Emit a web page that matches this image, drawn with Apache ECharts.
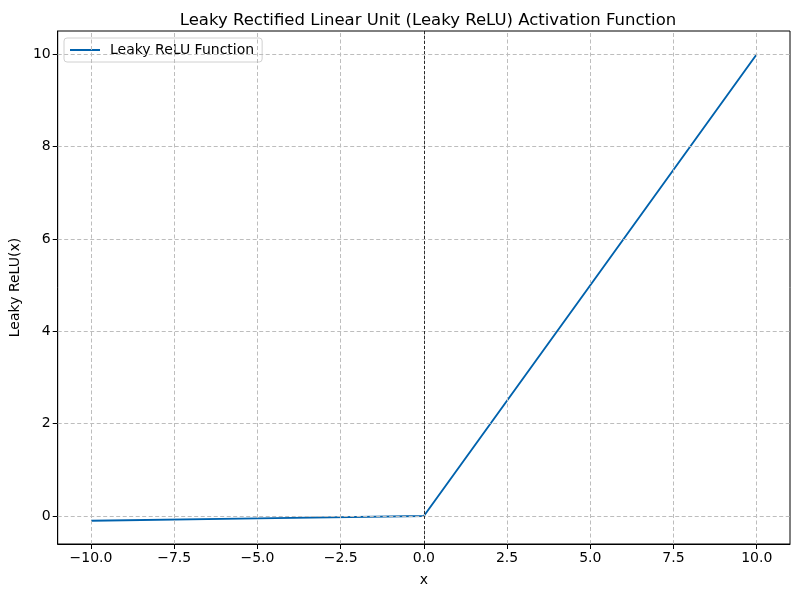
<!DOCTYPE html>
<html>
<head>
<meta charset="utf-8">
<script src="https://cdn.jsdelivr.net/npm/echarts@6/dist/echarts.min.js"></script>
<style>
  html, body { margin: 0; padding: 0; background: #fff; }
  #main { width: 800px; height: 597px; }
</style>
</head>
<body>
<div id="main"></div>
<script>
// 曲线上的点（分段线性，读自图片）
const xValues = [-10, -5, 0, 5, 10]
const yValues = [-0.1, -0.05, 0, 5, 10]

// 刻度
const xTicks = [-10, -7.5, -5, -2.5, 0, 2.5, 5, 7.5, 10]
const yTicks = [0, 2, 4, 6, 8, 10]

const fontFamily = 'DejaVu Sans'
const minus = s => String(s).replace('-', '\u2212')

let points = xValues.map((x, i) => [x, yValues[i]])

var myChart = echarts.init(document.getElementById('main'))

var option = {
    animation: false,
    textStyle: { fontFamily: fontFamily },
    title: {
        text: 'Leaky Rectified Linear Unit (Leaky ReLU) Activation Function',
        left: 423,
        textAlign: 'center',
        top: 7,
        textStyle: { fontSize: 16.5, fontWeight: 'normal', color: '#000', fontFamily: fontFamily }
    },
    legend: {
        data: ['Leaky ReLU Function'],
        left: 64,
        top: 38,
        orient: 'vertical',
        padding: [5, 8, 5, 5],
        itemWidth: 30,
        itemHeight: 2,
        borderColor: '#d0d0d0',
        borderWidth: 1,
        borderRadius: 3,
        backgroundColor: 'rgba(255,255,255,0.8)',
        textStyle: { fontSize: 14, color: '#000', fontFamily: fontFamily, padding: [0, 0, 0, 5] }
    },
    grid: {
        left: 57, right: 10, top: 31, bottom: 53,
        show: true, borderColor: '#000', borderWidth: 1
    },
    xAxis: {
        type: 'value',
        min: -11, max: 11,
        name: 'x',
        nameLocation: 'middle',
        nameGap: 29,
        nameTextStyle: { fontSize: 14, color: '#000', fontFamily: fontFamily },
        splitLine: { show: false },
        axisLine: { onZero: false, lineStyle: { color: '#000' } },
        axisTick: { customValues: xTicks, inside: false, length: 5, lineStyle: { color: '#000' } },
        axisLabel: {
            customValues: xTicks, fontSize: 14, color: '#000', margin: 7, fontFamily: fontFamily,
            formatter: v => minus(v.toFixed(1))
        }
    },
    yAxis: {
        type: 'value',
        min: -0.605, max: 10.505,
        name: 'Leaky ReLU(x)',
        nameLocation: 'middle',
        nameGap: 26,
        nameTextStyle: { fontSize: 14, color: '#000', fontFamily: fontFamily },
        splitLine: { show: false },
        axisLine: { show: true, onZero: false, lineStyle: { color: '#000' } },
        axisTick: { show: true, inside: false, customValues: yTicks, length: 5, lineStyle: { color: '#000' } },
        axisLabel: {
            customValues: yTicks, fontSize: 14, color: '#000', margin: 7, fontFamily: fontFamily,
            formatter: v => minus(Math.round(v))
        }
    },
    series: [
        {
            // 网格线
            name: 'grid',
            type: 'line',
            data: points,
            symbol: 'none',
            lineStyle: { opacity: 0 },
            silent: true,
            z: 1,
            markLine: {
                silent: true,
                symbol: 'none',
                label: { show: false },
                lineStyle: { type: [4, 2.5], color: '#bdbdbd', width: 1 },
                data: xTicks.map(v => ({ xAxis: v })).concat(yTicks.map(v => ({ yAxis: v })))
            }
        },
        {
            name: 'Leaky ReLU Function',
            type: 'line',
            data: points,
            symbol: 'none',
            showSymbol: false,
            lineStyle: { color: '#0062ad', width: 1.9 },
            itemStyle: { color: '#0062ad' },
            z: 3,
            markLine: {
                silent: true,
                symbol: 'none',
                label: { show: false },
                lineStyle: { type: [3, 2], color: '#000', width: 0.8 },
                data: [{ xAxis: 0 }]
            }
        }
    ]
}

option && myChart.setOption(option)
</script>
</body>
</html>
